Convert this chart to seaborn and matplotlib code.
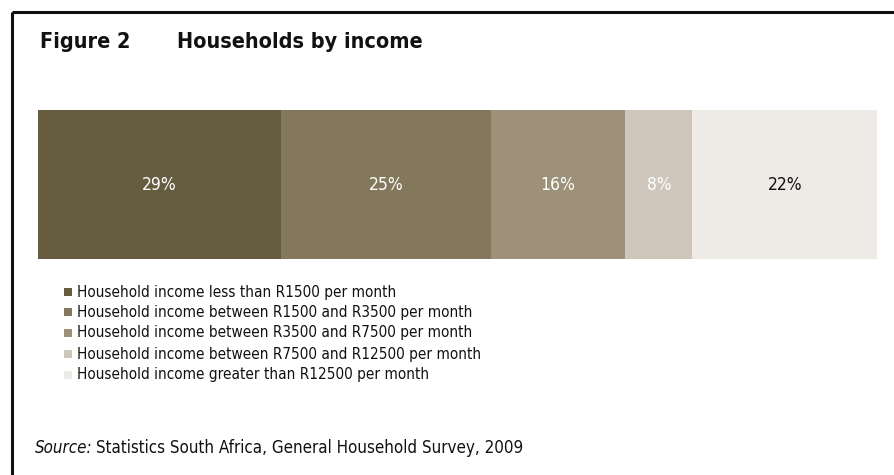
import matplotlib
matplotlib.use("Agg")
import matplotlib.pyplot as plt
from matplotlib.lines import Line2D
from matplotlib.patches import Rectangle
import seaborn as sns
import pandas as pd
import numpy as np

# Share of households in each monthly income band (%)
bands = [
    "Household income less than R1500 per month",
    "Household income between R1500 and R3500 per month",
    "Household income between R3500 and R7500 per month",
    "Household income between R7500 and R12500 per month",
    "Household income greater than R12500 per month",
]
shares = [29, 25, 16, 8, 22]
band_colors = ["#665c3f", "#83775c", "#9d917a", "#cec6ba", "#eeeae5"]
label_colors = ["white", "white", "white", "white", "#111111"]

sns.set_theme(style="white")
plt.rcParams["font.family"] = ["DejaVu Sans"]
STRETCH = "condensed"

W, H = 895, 475
fig = plt.figure(figsize=(W / 100, H / 100), dpi=100)
fig.patch.set_facecolor("white")

def fx(px):
    return px / W

def fy(py):
    return 1 - py / H

# Stacked bar: draw cumulative totals from the longest down so each band shows
cum = np.cumsum(shares)
df = pd.DataFrame({"band": bands, "share": shares, "cum": cum, "row": ["all"] * len(bands)})

ax = fig.add_axes([fx(38), fy(259), fx(877) - fx(38), fy(110) - fy(259)])
for i in reversed(range(len(bands))):
    sns.barplot(data=df.iloc[[i]], x="cum", y="row", orient="h",
                color=band_colors[i], width=1.0, saturation=1.0,
                edgecolor="none", linewidth=0, ax=ax)
ax.set_xlim(0, 100)
ax.set_ylim(0.5, -0.5)
ax.axis("off")

# Percentage labels in the middle of each band
starts = cum - np.array(shares)
for s, v, c in zip(starts, shares, label_colors):
    ax.text(s + v / 2, 0, f"{v}%", ha="center", va="center",
            fontsize=12.5, color=c, fontstretch=STRETCH)

# Title
fig.text(fx(40), fy(42), "Figure 2", fontsize=15.5, fontweight="bold",
         ha="left", va="center", fontstretch=STRETCH, color="#111111")
fig.text(fx(177), fy(42), "Households by income", fontsize=15.5, fontweight="bold",
         ha="left", va="center", fontstretch=STRETCH, color="#111111")

# Legend
row_y = [292, 312, 333, 354, 375]
for ypx, lab, col in zip(row_y, bands, band_colors):
    fig.add_artist(Rectangle((fx(64), fy(ypx + 4)), fx(8), 8 / H,
                             transform=fig.transFigure, facecolor=col,
                             edgecolor="none"))
    fig.text(fx(77), fy(ypx), lab, fontsize=11, ha="left", va="center",
             fontstretch=STRETCH, color="#111111")

# Source note
src = fig.text(fx(35), fy(448), "Source:", fontsize=12.2, fontstyle="italic",
               ha="left", va="center", fontstretch=STRETCH, color="#111111")
fig.canvas.draw()
bb = src.get_window_extent()
fig.text((bb.x1 + 3) / W, fy(448), "Statistics South Africa, General Household Survey, 2009",
         fontsize=12.2, ha="left", va="center", fontstretch=STRETCH, color="#111111")

# Frame along the top and left edges
fig.add_artist(Line2D([fx(12), 1], [fy(12), fy(12)], transform=fig.transFigure,
                      color="#111111", linewidth=2.2, solid_capstyle="butt"))
fig.add_artist(Line2D([fx(12), fx(12)], [0, fy(12)], transform=fig.transFigure,
                      color="#111111", linewidth=2.2, solid_capstyle="butt"))

fig.savefig("out.png", dpi=100, facecolor="white")
